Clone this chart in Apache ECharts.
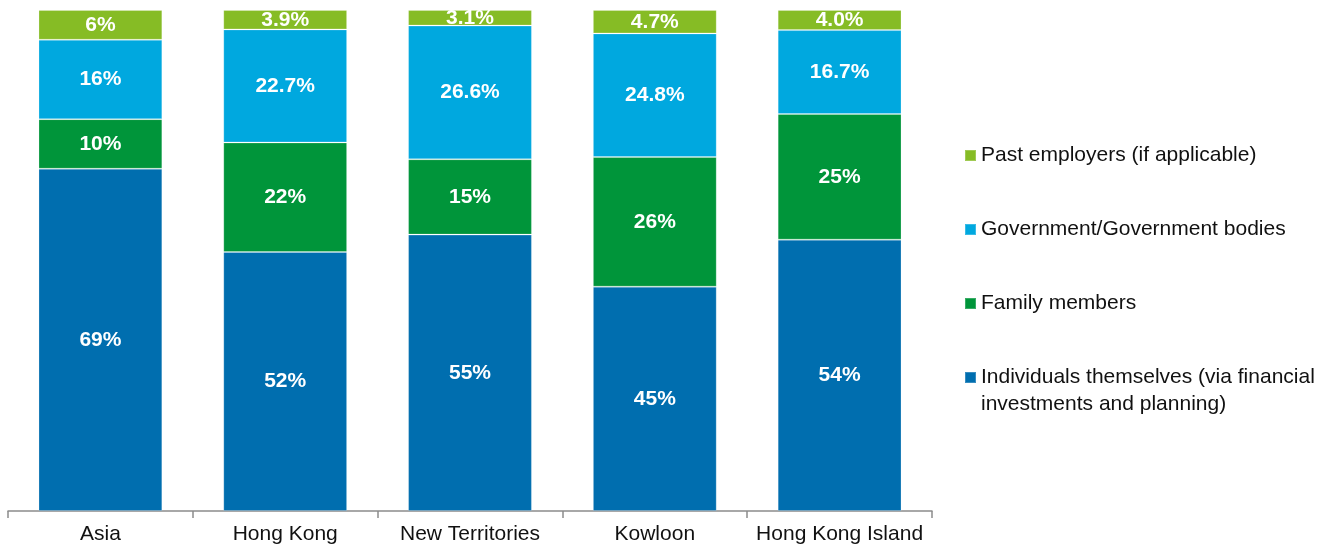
<!DOCTYPE html>
<html>
<head>
<meta charset="utf-8">
<title>Funding sources by region</title>
<script src="https://cdn.jsdelivr.net/npm/echarts@6/dist/echarts.min.js"></script>
<style>
  html, body { margin: 0; padding: 0; background: #ffffff; }
  #chart { width: 1329px; height: 548px; }
</style>
</head>
<body>
<div id="chart"></div>
<script>
// Regions along the x axis
const categories = ['Asia', 'Hong Kong', 'New Territories', 'Kowloon', 'Hong Kong Island'];

// Stated shares (%) per funding source, one entry per region
const individuals = [69, 52, 55, 45, 54];
const family = [10, 22, 15, 26, 25];
const government = [16, 22.7, 26.6, 24.8, 16.7];
const pastEmployers = [6, 3.9, 3.1, 4.7, 4.0];

// Decimal places shown in each label
const individualsDigits = [0, 0, 0, 0, 0];
const familyDigits = [0, 0, 0, 0, 0];
const governmentDigits = [0, 1, 1, 1, 1];
const pastEmployersDigits = [0, 1, 1, 1, 1];

const seriesNames = [
  'Individuals themselves (via financial\ninvestments and planning)',
  'Family members',
  'Government/Government bodies',
  'Past employers (if applicable)'
];
const colors = ['#006EAF', '#00953A', '#00A8DF', '#86BC25'];

// Each column is drawn as a 100% stack: segments are scaled by the column total
const raw = [individuals, family, government, pastEmployers];
const digits = [individualsDigits, familyDigits, governmentDigits, pastEmployersDigits];
const totals = categories.map((_, i) => raw.reduce((s, arr) => s + arr[i], 0));

const font = 'Liberation Sans, Arial, sans-serif';

const series = raw.map((arr, k) => ({
  name: seriesNames[k],
  type: 'bar',
  stack: 'total',
  barWidth: '67%',
  data: arr.map((v, i) => ({ value: v / totals[i], raw: v, digits: digits[k][i] })),
  itemStyle: { color: colors[k], borderColor: 'rgba(255,255,255,0.22)', borderWidth: 1 },
  label: {
    show: true,
    position: 'inside',
    color: '#ffffff',
    fontFamily: font,
    fontWeight: 'bold',
    fontSize: 21,
    formatter: p => p.data.raw.toFixed(p.data.digits) + '%'
  },
  emphasis: { disabled: true }
}));

const legendText = { color: '#111111', fontFamily: font, fontSize: 21, lineHeight: 25 };

// Square marker sitting at the top of a taller box, so it lines up with the
// first line of a two-line legend entry (the speck at the bottom sets the box height)
const topSquareIcon = 'path://M0,0L11,0L11,11L0,11Z M5.45,37.95L5.55,37.95L5.55,38L5.45,38Z';

const chart = echarts.init(document.getElementById('chart'), null, { renderer: 'canvas' });
chart.setOption({
  animation: false,
  color: colors,
  grid: { left: 8, right: 397, top: 10, bottom: 37, containLabel: false },
  legend: [
    {
      orient: 'vertical',
      left: 959,
      top: 138,
      itemWidth: 11,
      itemHeight: 11,
      itemGap: 49,
      icon: 'rect',
      selectedMode: false,
      data: [seriesNames[3], seriesNames[2], seriesNames[1]],
      textStyle: Object.assign({}, legendText)
    },
    {
      orient: 'vertical',
      left: 959,
      top: 359,
      itemWidth: 11,
      itemHeight: 38,
      icon: topSquareIcon,
      selectedMode: false,
      data: [seriesNames[0]],
      textStyle: Object.assign({}, legendText, { lineHeight: 27 })
    }
  ],
  xAxis: {
    type: 'category',
    data: categories,
    axisLine: { show: true, lineStyle: { color: '#8c8c8c', width: 1.5 } },
    axisTick: { show: true, interval: 0, length: 7, lineStyle: { color: '#8c8c8c', width: 1.5 } },
    axisLabel: { interval: 0, color: '#111111', fontFamily: font, fontSize: 21, margin: 13 }
  },
  yAxis: {
    type: 'value',
    min: 0,
    max: 1,
    show: false,
    splitLine: { show: false }
  },
  series: series
});
</script>
</body>
</html>
